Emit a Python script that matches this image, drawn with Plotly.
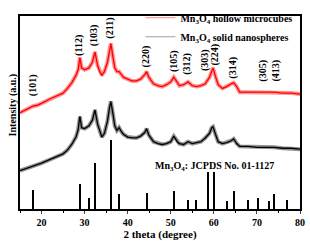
import plotly.graph_objects as go

# ---- data ----
two_theta = [15, 17, 18, 19, 20, 22, 24, 25, 26, 27, 28, 28.5, 28.9, 29.3, 30, 31, 31.8, 32.4,
             33, 33.5, 34, 34.6, 35.3, 35.8, 36.1, 36.5, 37, 37.5, 38, 38.5, 39, 40, 41, 42,
             43, 44, 44.4, 44.9, 46, 47, 48, 49, 50, 50.7, 51.5, 52, 53, 54, 55, 56, 57, 58,
             59, 59.5, 59.8, 60.3, 61, 62, 63, 64, 64.6, 65.3, 66, 68, 70, 72, 74, 76, 78, 80]

hollow = [103, 108, 110, 111, 113, 118, 122, 124, 129, 135, 143, 149, 162, 151, 149, 151, 157, 168,
          154, 147, 143, 147, 157, 171, 177, 165, 151, 147, 147, 144, 141, 139, 137, 137,
          139, 144, 147, 141, 134, 132, 131, 133, 136, 141, 135, 132, 133, 136, 132, 131, 132, 134,
          141, 149, 151, 143, 133, 129, 131, 134, 135, 131, 125, 125, 125, 125, 125, 124, 124, 123]

solid = [41, 44, 46, 47, 49, 53, 57, 59, 63, 69, 77, 85, 99, 87, 86, 89, 95, 106,
         91, 83, 77, 81, 94, 109, 115, 104, 89, 84, 87, 83, 80, 77, 76, 76,
         78, 82, 86, 79, 72, 70, 69, 70, 72, 78, 72, 70, 69, 72, 70, 71, 72, 76,
         81, 87, 88, 81, 72, 70, 71, 73, 75, 70, 67, 67, 66, 66, 66, 65, 65, 64]

ref_pos = [18.0, 28.9, 31.0, 32.4, 36.1, 38.0, 44.5, 50.9, 54.0, 56.0, 58.7, 60.0,
           63.2, 64.8, 68.0, 70.3, 72.8, 74.1, 77.0]
ref_int = [20, 27, 12, 49, 74, 16, 17, 19, 10, 10, 40, 40, 9, 19, 10, 12, 9, 16, 10]

hkl_labels = ["(101)", "(112)", "(103)", "(211)", "(220)", "(105)", "(312)", "(303)",
              "(224)", "(314)", "(305)", "(413)"]
hkl_x = [17.9, 28.8, 32.2, 35.9, 44.2, 50.9, 53.7, 58.1, 60.2, 64.4, 71.4, 74.4]
hkl_y = [133, 175, 186, 193, 163, 158, 155, 159, 165, 151, 148, 148]

x_ticks = [20, 30, 40, 50, 60, 70, 80]

FONT = "Liberation Serif"

fig = go.Figure()

# noisy-band look: wide light line under thin dark line
fig.add_trace(go.Scatter(x=two_theta, y=hollow, mode="lines",
                         line=dict(color="rgba(255,110,110,0.75)", width=4), showlegend=False,
                         hoverinfo="skip"))
fig.add_trace(go.Scatter(x=two_theta, y=hollow, mode="lines",
                         line=dict(color="#ff0000", width=1.3), showlegend=False))
fig.add_trace(go.Scatter(x=two_theta, y=solid, mode="lines",
                         line=dict(color="rgba(110,110,110,0.75)", width=4), showlegend=False,
                         hoverinfo="skip"))
fig.add_trace(go.Scatter(x=two_theta, y=solid, mode="lines",
                         line=dict(color="#000000", width=1.3), showlegend=False))

# legend entries
fig.add_trace(go.Scatter(x=[None], y=[None], mode="lines",
                         line=dict(color="#ff8080", width=1),
                         name="<b>Mn<sub>3</sub>O<sub>4</sub> hollow microcubes</b>"))
fig.add_trace(go.Scatter(x=[None], y=[None], mode="lines",
                         line=dict(color="#a0a0a0", width=1),
                         name="<b>Mn<sub>3</sub>O<sub>4</sub> solid nanospheres</b>"))

# JCPDS reference lines
fig.add_trace(go.Bar(x=ref_pos, y=ref_int, width=0.35, marker=dict(color="black", line=dict(width=0)),
                     showlegend=False))

for t, x, y in zip(hkl_labels, hkl_x, hkl_y):
    fig.add_annotation(x=x, y=y, text="<b>" + t + "</b>", textangle=-90, showarrow=False,
                       font=dict(family=FONT, size=10, color="black"))

fig.add_annotation(x=0.475, y=0.222, xref="paper", yref="paper", xanchor="left", yanchor="middle",
                   text="<b>Mn<sub>3</sub>O<sub>4</sub>: JCPDS No. 01-1127</b>", showarrow=False,
                   font=dict(family=FONT, size=10, color="black"))

fig.add_annotation(x=-0.055, y=0.54, xref="paper", yref="paper", text="<b>Intensity (a.u.)</b>",
                   textangle=-90, showarrow=False,
                   font=dict(family=FONT, size=10, color="black"))

fig.update_layout(
    width=310, height=241,
    margin=dict(l=20, r=10, t=3, b=31.5),
    paper_bgcolor="white", plot_bgcolor="white",
    bargap=0,
    font=dict(family=FONT, color="black"),
    legend=dict(x=0.43, y=1.066, xanchor="left", yanchor="top",
                bgcolor="rgba(0,0,0,0)", borderwidth=0,
                font=dict(family=FONT, size=10, color="black"),
                tracegroupgap=0, itemwidth=30),
    xaxis=dict(range=[15, 80], tickvals=x_ticks, ticktext=["<b>%d</b>" % v for v in x_ticks],
               ticks="outside", ticklen=3.5, tickwidth=1.2,
               showline=True, linecolor="black", linewidth=1.5, mirror=True,
               showgrid=False, zeroline=False,
               tickfont=dict(family=FONT, size=10, color="black"),
               minor=dict(dtick=5, tick0=15, ticks="outside", ticklen=2.5, tickwidth=1, tickcolor="black"),
               title=dict(text="<b>2 theta (degree)</b>", standoff=0,
                          font=dict(family=FONT, size=11, color="black"))),
    yaxis=dict(range=[0, 206.5], showticklabels=False, ticks="",
               showline=True, linecolor="black", linewidth=1.5, mirror=True,
               showgrid=False, zeroline=False),
)

fig.write_html("out.html", config={"displayModeBar": False},
               post_script="document.body.style.margin='0';document.body.style.padding='0';")
